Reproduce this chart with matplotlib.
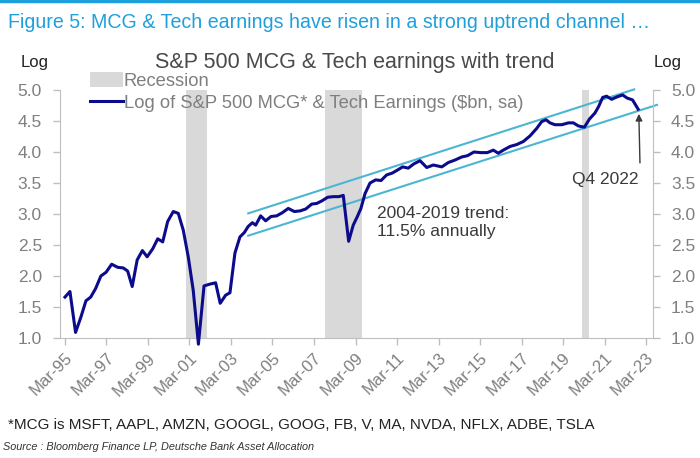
import matplotlib
matplotlib.use("Agg")
import matplotlib.pyplot as plt
from matplotlib.patches import Patch
from matplotlib.lines import Line2D

plt.rcParams['font.family'] = ['Liberation Sans', 'DejaVu Sans']

# quarterly log earnings (decimal years)
dates = [1995.17, 1995.41, 1995.68, 1995.94, 1996.18, 1996.41, 1996.65, 1996.90,
         1997.15, 1997.42, 1997.71, 1997.98, 1998.19, 1998.41, 1998.65, 1998.90,
         1999.13, 1999.40, 1999.64, 1999.88, 2000.12, 2000.39, 2000.63, 2000.87,
         2001.11, 2001.35, 2001.60, 2001.87, 2002.16, 2002.43, 2002.65, 2002.91,
         2003.12, 2003.36, 2003.60, 2003.81, 2004.00, 2004.20, 2004.36, 2004.60,
         2004.84, 2005.10, 2005.37, 2005.64, 2005.93, 2006.22, 2006.50, 2006.77,
         2007.06, 2007.30, 2007.54, 2007.83, 2008.10, 2008.37, 2008.58, 2008.84,
         2009.06, 2009.26, 2009.43, 2009.63, 2009.87, 2010.14, 2010.40, 2010.67,
         2010.94, 2011.20, 2011.44, 2011.71, 2011.99, 2012.28, 2012.60, 2012.92,
         2013.33, 2013.64, 2013.96, 2014.29, 2014.56, 2014.88, 2015.20, 2015.52,
         2015.81, 2016.05, 2016.29, 2016.62, 2016.94, 2017.26, 2017.58, 2017.90,
         2018.14, 2018.35, 2018.54, 2018.78, 2019.11, 2019.43, 2019.67, 2019.91,
         2020.20, 2020.44, 2020.71, 2020.88, 2021.08, 2021.27, 2021.51, 2021.78,
         2022.04, 2022.26, 2022.52, 2022.79]
log_earn = [1.66, 1.75, 1.09, 1.34, 1.60, 1.66, 1.80, 2.00,
            2.06, 2.19, 2.14, 2.13, 2.08, 1.83, 2.26, 2.41,
            2.31, 2.44, 2.60, 2.55, 2.88, 3.04, 3.01, 2.74,
            2.31, 1.77, 0.90, 1.84, 1.87, 1.89, 1.56, 1.69,
            1.73, 2.37, 2.63, 2.70, 2.80, 2.86, 2.82, 2.97,
            2.89, 2.96, 2.97, 3.02, 3.09, 3.04, 3.05, 3.08,
            3.16, 3.17, 3.21, 3.27, 3.28, 3.28, 3.30, 2.56,
            2.82, 2.96, 3.09, 3.33, 3.50, 3.55, 3.54, 3.63,
            3.66, 3.71, 3.76, 3.74, 3.81, 3.86, 3.75, 3.79,
            3.76, 3.83, 3.87, 3.92, 3.94, 4.00, 3.99, 3.99,
            4.03, 3.98, 4.03, 4.09, 4.12, 4.17, 4.26, 4.38,
            4.49, 4.52, 4.47, 4.44, 4.44, 4.47, 4.47, 4.42,
            4.40, 4.53, 4.63, 4.73, 4.88, 4.90, 4.85, 4.89,
            4.92, 4.87, 4.84, 4.69]

# trend channel end points
upper_x = [2004.0, 2022.6]
upper_y = [3.01, 5.01]
lower_x = [2004.0, 2023.7]
lower_y = [2.65, 4.76]

recessions = [(2001.0, 2002.0), (2007.7, 2009.48), (2020.09, 2020.43)]

tick_years = [1995.17 + 2 * i for i in range(15)]
tick_labels = ['Mar-95', 'Mar-97', 'Mar-99', 'Mar-01', 'Mar-03', 'Mar-05', 'Mar-07',
               'Mar-09', 'Mar-11', 'Mar-13', 'Mar-15', 'Mar-17', 'Mar-19', 'Mar-21', 'Mar-23']
y_ticks = [1.0, 1.5, 2.0, 2.5, 3.0, 3.5, 4.0, 4.5, 5.0]

grey_txt = '#7f7f7f'
spine_c = '#bfbfbf'
navy = '#0b0b8c'
teal = '#4cb6d2'
rec_c = '#d9d9d9'

fig = plt.figure(figsize=(7, 4.58), dpi=100)
ax = fig.add_axes([0.0857, 0.262, 0.847, 0.5415])

for a, b in recessions:
    ax.axvspan(a, b, color=rec_c, lw=0, zorder=0)

ax.plot(upper_x, upper_y, color=teal, lw=1.5, zorder=2, clip_on=False)
ax.plot(lower_x, lower_y, color=teal, lw=1.5, zorder=2, clip_on=False)
ax.plot(dates, log_earn, color=navy, lw=2.2, zorder=3, clip_on=False,
        solid_joinstyle='round')

ax.set_xlim(1994.93, 2023.5)
ax.set_ylim(1.0, 5.0)
ax.set_xticks(tick_years)
ax.set_xticklabels(tick_labels, rotation=45, ha='right', rotation_mode='anchor')
ax.set_yticks(y_ticks)
ax.set_yticklabels(['%.1f' % v for v in y_ticks])
ax.tick_params(axis='both', colors=spine_c, labelcolor=grey_txt, labelsize=12.5,
               length=5, width=1)
ax.tick_params(axis='x', labelsize=12, pad=4)
ax.tick_params(axis='y', left=True, right=True, labelleft=True, labelright=True, pad=8)
for s in ['left', 'right', 'bottom']:
    ax.spines[s].set_color(spine_c)
ax.spines['top'].set_visible(False)

# annotations
ax.text(2010.2, 2.86, '2004-2019 trend:\n11.5% annually', fontsize=12.5,
        color='#3a3a3a', ha='left', va='center', linespacing=1.25)
ax.text(2021.2, 3.55, 'Q4 2022', fontsize=12.5, color='#3a3a3a', ha='center', va='center')
ax.annotate('', xy=(2022.82, 4.66), xytext=(2022.88, 3.78),
            arrowprops=dict(arrowstyle='-|>', color='#3a3a3a', lw=1, mutation_scale=10))

# legend
handles = [Patch(facecolor=rec_c, edgecolor='none'),
           Line2D([0], [0], color=navy, lw=2.2)]
labels = ['Recession', 'Log of S&P 500 MCG* & Tech Earnings ($bn, sa)']
leg = fig.legend(handles, labels, loc='upper left', bbox_to_anchor=(90 / 700, 1 - 72 / 458),
                 frameon=False, fontsize=13.2, labelcolor=grey_txt, handlelength=1.8,
                 handleheight=0.9, handletextpad=0.05, borderpad=0, borderaxespad=0,
                 labelspacing=0.2)

# titles and footers
fig.add_artist(Line2D([0, 1], [0.997, 0.997], color='#1ea0dc', lw=2.5,
                      transform=fig.transFigure))
fig.text(8 / 700, 1 - 22 / 458, 'Figure 5: MCG & Tech earnings have risen in a strong uptrend channel \u2026',
         fontsize=14.1, color='#1ea0dc', ha='left', va='center')
fig.text(355 / 700, 1 - 63 / 458, 'S&P 500 MCG & Tech earnings with trend', fontsize=15.5,
         color='#4a4a4a', ha='center', va='center')
fig.text(35 / 700, 1 - 62 / 458, 'Log', fontsize=12, color='#222222', ha='center', va='center')
fig.text(668 / 700, 1 - 62 / 458, 'Log', fontsize=12, color='#222222', ha='center', va='center')
fig.text(8 / 700, 1 - 425 / 458,
         '*MCG is MSFT, AAPL, AMZN, GOOGL, GOOG, FB, V, MA, NVDA, NFLX, ADBE, TSLA',
         fontsize=11, color='#222222', ha='left', va='center')
fig.text(3 / 700, 1 - 447 / 458, 'Source : Bloomberg Finance LP, Deutsche Bank Asset Allocation',
         fontsize=7.8, color='#333333', ha='left', va='center', style='italic')

fig.savefig('out.png', dpi=100)
